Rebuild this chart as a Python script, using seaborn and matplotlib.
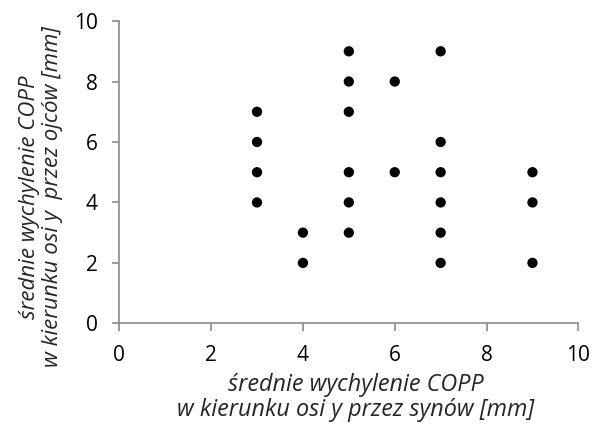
import matplotlib
matplotlib.use("Agg")
import matplotlib.pyplot as plt
import seaborn as sns
import pandas as pd

# data: x = sons, y = fathers
x_sons = [3, 3, 3, 3, 4, 4, 5, 5, 5, 5, 5, 5, 6, 6, 7, 7, 7, 7, 7, 7, 9, 9, 9]
y_fathers = [4, 5, 6, 7, 2, 3, 3, 4, 5, 7, 8, 9, 5, 8, 2, 3, 4, 5, 6, 9, 2, 4, 5]
ticks = [0, 2, 4, 6, 8, 10]
xlabel = "średnie wychylenie COPP\nw kierunku osi y przez synów [mm]"
ylabel = "średnie wychylenie COPP\nw kierunku osi y  przez ojców [mm]"

sns.set_theme(style="white")
plt.rcParams['font.family'] = ['Open Sans', 'DejaVu Sans']

df = pd.DataFrame({"x": x_sons, "y": y_fathers})

fig = plt.figure(figsize=(5.92, 4.26), dpi=100)
ax = fig.add_axes([0.2015, 0.241, 0.7755, 0.7095])
sns.scatterplot(data=df, x="x", y="y", ax=ax, color="black", s=55,
                edgecolor="none", linewidth=0)

ax.set_xlim(0, 10)
ax.set_ylim(0, 10)
ax.set_xticks(ticks)
ax.set_yticks(ticks)
ax.set_xticklabels([str(t) for t in ticks], fontsize=15)
ax.set_yticklabels([str(t) for t in ticks], fontsize=15)

for s in ["top", "right"]:
    ax.spines[s].set_visible(False)
for s in ["left", "bottom"]:
    ax.spines[s].set_color("#8a8a8a")
    ax.spines[s].set_linewidth(1.2)
ax.tick_params(axis="both", direction="out", length=5.4, width=1.2,
               color="#8a8a8a", labelcolor="black", pad=10)
ax.tick_params(left=True, bottom=True)

ax.set_xlabel(xlabel, fontsize=16.8, style="italic", linespacing=1.05)
ax.set_ylabel(ylabel, fontsize=16, style="italic", linespacing=1.1)
ax.xaxis.set_label_coords(0.515, -0.163, transform=ax.transAxes)
ax.yaxis.set_label_coords(-0.123, 0.418, transform=ax.transAxes)
ax.grid(False)

fig.savefig("out.png", dpi=100)
